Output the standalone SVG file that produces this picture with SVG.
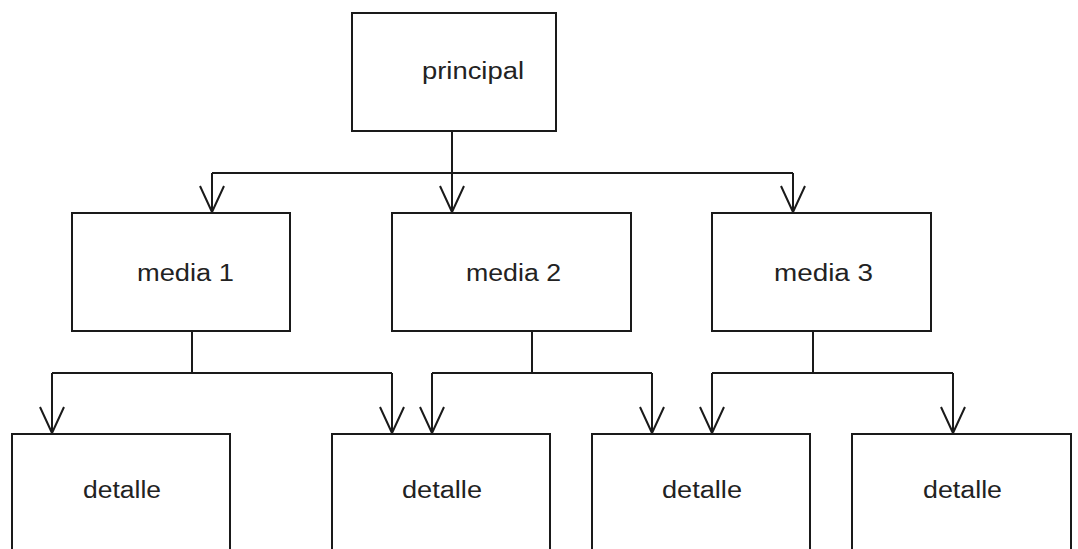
<svg xmlns="http://www.w3.org/2000/svg" width="1078" height="549" viewBox="0 0 1078 549">
<style>
.box{fill:#fff;stroke:#1a1a1a;stroke-width:2}
.lbl{font-family:"Liberation Sans",Arial,sans-serif;font-size:23px;fill:#222}
.conn{fill:none;stroke:#1a1a1a;stroke-width:2}
</style>
<defs>
<marker id="arr" markerUnits="userSpaceOnUse" markerWidth="30" markerHeight="30" viewBox="-28 -14 30 28" refX="0" refY="0" orient="auto" overflow="visible">
<path d="M-26,-12 L0,0 L-26,12" fill="none" stroke="#1a1a1a" stroke-width="2"/>
</marker>
</defs>
<rect width="1078" height="549" fill="#fff"/>
<g id="connectors">
<path class="conn" d="M452 131 V173"/>
<path class="conn" d="M212 173 H793"/>
<path class="conn" d="M212 173 V212" marker-end="url(#arr)"/>
<path class="conn" d="M452 173 V212" marker-end="url(#arr)"/>
<path class="conn" d="M793 173 V212" marker-end="url(#arr)"/>
<path class="conn" d="M192 331 V373 M52 373 H392"/>
<path class="conn" d="M52 373 V433" marker-end="url(#arr)"/>
<path class="conn" d="M392 373 V433" marker-end="url(#arr)"/>
<path class="conn" d="M532 331 V373 M432 373 H652"/>
<path class="conn" d="M432 373 V433" marker-end="url(#arr)"/>
<path class="conn" d="M652 373 V433" marker-end="url(#arr)"/>
<path class="conn" d="M813 331 V373 M712 373 H953"/>
<path class="conn" d="M712 373 V433" marker-end="url(#arr)"/>
<path class="conn" d="M953 373 V433" marker-end="url(#arr)"/>
</g>
<g id="principal"><rect class="box" x="352" y="13" width="204" height="118"/><text class="lbl" x="422" y="79" textLength="102" lengthAdjust="spacingAndGlyphs">principal</text></g>
<g id="media1"><rect class="box" x="72" y="213" width="218" height="118"/><text class="lbl" x="137" y="281" textLength="97" lengthAdjust="spacingAndGlyphs">media 1</text></g>
<g id="media2"><rect class="box" x="392" y="213" width="239" height="118"/><text class="lbl" x="466" y="281" textLength="95" lengthAdjust="spacingAndGlyphs">media 2</text></g>
<g id="media3"><rect class="box" x="712" y="213" width="219" height="118"/><text class="lbl" x="774" y="281" textLength="99" lengthAdjust="spacingAndGlyphs">media 3</text></g>
<g id="detalle1"><rect class="box" x="12" y="434" width="218" height="200"/><text class="lbl" x="83" y="498" textLength="78" lengthAdjust="spacingAndGlyphs">detalle</text></g>
<g id="detalle2"><rect class="box" x="332" y="434" width="218" height="200"/><text class="lbl" x="402" y="498" textLength="80" lengthAdjust="spacingAndGlyphs">detalle</text></g>
<g id="detalle3"><rect class="box" x="592" y="434" width="218" height="200"/><text class="lbl" x="662" y="498" textLength="80" lengthAdjust="spacingAndGlyphs">detalle</text></g>
<g id="detalle4"><rect class="box" x="852" y="434" width="219" height="200"/><text class="lbl" x="923" y="498" textLength="79" lengthAdjust="spacingAndGlyphs">detalle</text></g>
</svg>
